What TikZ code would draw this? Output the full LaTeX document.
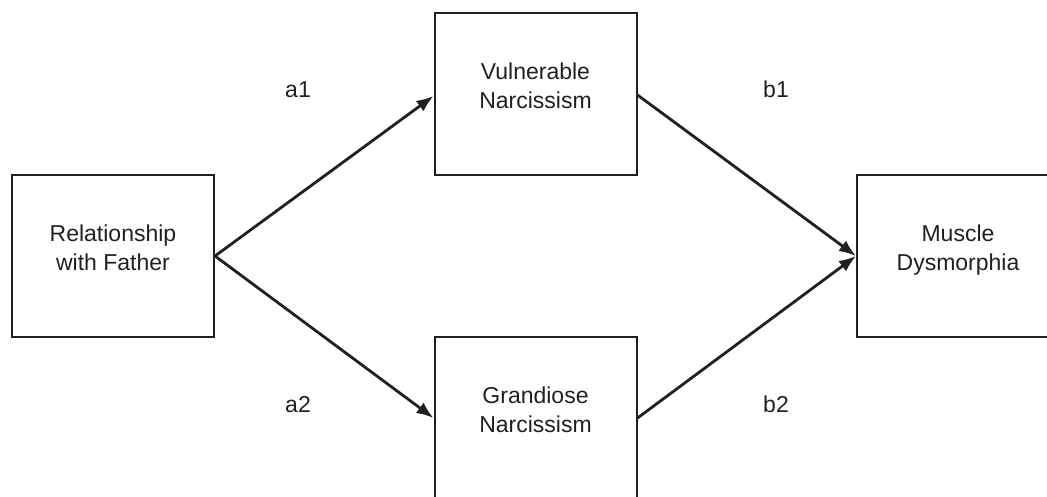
\documentclass[tikz,border=0pt]{standalone}
\usepackage{fontspec}
\setmainfont{Liberation Sans}
\usetikzlibrary{arrows.meta}
\definecolor{ink}{RGB}{35,31,32}
\begin{document}
\begin{tikzpicture}[x=1pt,y=-1pt,
  box/.style={draw=ink, line width=2pt, minimum width=202pt, minimum height=162pt, inner sep=0pt},
  lbl/.style={text=ink, font=\fontsize{23}{29}\selectfont, align=center},
  link/.style={draw=ink, line width=2.8pt, -{Latex[length=17pt,width=13pt]}},
  coef/.style={text=ink, font=\fontsize{23}{29}\selectfont, inner sep=0pt, anchor=base}]
\useasboundingbox (0,0) rectangle (1047,496);
\clip (0,0) rectangle (1047,496);
\node[box] (rf) at (113,256) {};
\node[box] (vn) at (535.5,94) {};
\node[box] (gn) at (535.5,418) {};
\node[box] (md) at (958,256) {};
\node[lbl] (rft) at (113,250) {Relationship\strut\\with Father\strut};
\node[lbl] (vnt) at (535.5,88) {Vulnerable\strut\\Narcissism\strut};
\node[lbl] (gnt) at (535.5,412) {Grandiose\strut\\Narcissism\strut};
\node[lbl] (mdt) at (958,250) {Muscle\strut\\Dysmorphia\strut};
\draw[link] (rf.east) -- ([yshift=-2pt]vn.west);
\draw[link] (rf.east) -- (gn.west);
\draw[link] ([yshift=-1pt]vn.east) -- (md.west);
\draw[link] (gn.east) -- (md.west);
\node[coef] (a1) at (298,97) {a1};
\node[coef] (b1) at (776,97) {b1};
\node[coef] (a2) at (298,412) {a2};
\node[coef] (b2) at (776,412) {b2};
\end{tikzpicture}
\end{document}
